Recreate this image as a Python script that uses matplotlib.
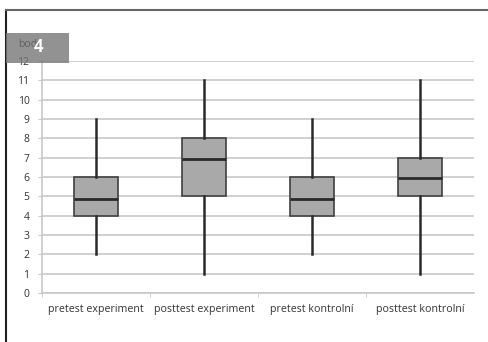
import matplotlib
matplotlib.use("Agg")
import matplotlib.pyplot as plt
from matplotlib.patches import Rectangle
from matplotlib.lines import Line2D

categories = ["pretest experiment", "posttest experiment", "pretest kontrolní", "posttest kontrolní"]
whisker_low = [2, 1, 2, 1]
q1 = [4, 5, 4, 5]
median = [4.85, 6.95, 4.85, 5.95]
q3 = [6, 8, 6, 7]
whisker_high = [9, 11, 9, 11]
y_ticks = list(range(0, 13))
y_label = "body"
panel_label = "4"

plt.rcParams['font.family'] = ['Open Sans', 'DejaVu Sans']

fig = plt.figure(figsize=(4.89, 3.42), dpi=100)
ax = fig.add_axes([42/489, 1-293/342, (474-42)/489, (293-61)/342])

stats = []
for i, c in enumerate(categories):
    stats.append(dict(label=c, whislo=whisker_low[i], q1=q1[i], med=median[i],
                      q3=q3[i], whishi=whisker_high[i], fliers=[]))

ax.set_axisbelow(True)
ax.yaxis.grid(True, color="#c8c8c8", linewidth=1.2)
ax.bxp(stats, positions=range(1, len(categories)+1), widths=0.4, patch_artist=True,
       showfliers=False, showcaps=False,
       boxprops=dict(facecolor="#a9a9a9", edgecolor="#404040", linewidth=1.2),
       whiskerprops=dict(color="#2a2a2a", linewidth=1.8),
       medianprops=dict(color="#2a2a2a", linewidth=2))

ax.set_xlim(0.5, len(categories)+0.5)
ax.set_ylim(0, 12)
ax.set_yticks(y_ticks)
ax.set_xticks(range(1, len(categories)+1))
ax.set_xticklabels(categories)
ax.set_xticks([i+0.5 for i in range(len(categories))], minor=True)
ax.tick_params(axis="x", which="major", length=0, labelsize=7.7, colors="#333333", pad=8)
ax.tick_params(axis="x", which="minor", length=3, color="#c8c8c8")
ax.tick_params(axis="y", length=3, color="#c8c8c8", labelsize=7.5, labelcolor="#333333", pad=6)
for s in ["top", "right"]:
    ax.spines[s].set_visible(False)
for s in ["left", "bottom"]:
    ax.spines[s].set_color("#c8c8c8")
    ax.spines[s].set_linewidth(1.2)

# y label at top (partly covered by the panel label box)
fig.text(18/489, 1-44/342, y_label, fontsize=7.5, color="#000000", va="center", ha="left", zorder=1)

# outer partial frame
fig.add_artist(Line2D([6/489, 6/489], [0, 1-10/342], color="#222222", linewidth=1.5, transform=fig.transFigure))
fig.add_artist(Line2D([6/489, 1], [1-10/342, 1-10/342], color="#666666", linewidth=1.5, transform=fig.transFigure))

# panel label box
box = Rectangle((6/489, 1-63/342), 63/489, 30/342, transform=fig.transFigure,
                facecolor="#777777", edgecolor="none", alpha=0.8, zorder=5)
fig.add_artist(box)
fig.text(38/489, 1-47/342, panel_label, fontsize=12, fontweight="bold", color="white",
         ha="center", va="center", zorder=6)

fig.savefig("out.png", dpi=100)
